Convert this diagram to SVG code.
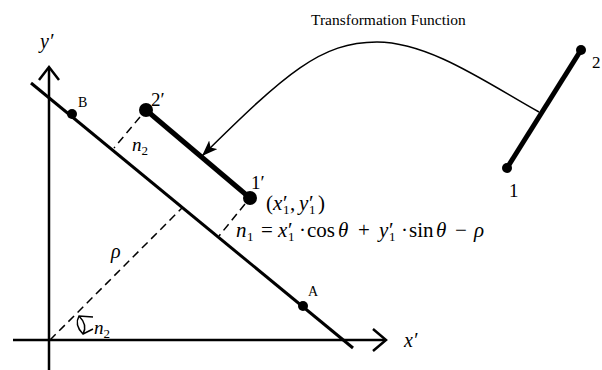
<svg xmlns="http://www.w3.org/2000/svg" width="602" height="370" viewBox="0 0 602 370">
<defs>
<style>
.t{font-family:"Liberation Serif","Times New Roman",serif;fill:#000}
.i{font-style:italic}
.s{font-size:13px}
.ax{stroke:#000;stroke-width:2.5;fill:none}
.thin{stroke:#000;stroke-width:1.5;fill:none}
.dash{stroke:#000;stroke-width:1.5;fill:none;stroke-dasharray:8 5}
.thick{stroke:#000;stroke-width:5;fill:none}
.dot{fill:#000}
</style>
<marker id="ah" viewBox="0 0 16 12" refX="16" refY="6" markerWidth="16" markerHeight="12" markerUnits="userSpaceOnUse" orient="auto">
<path d="M0,0 L16,6 L0,12 L4,6 Z" fill="#000"/>
</marker>
</defs>
<rect width="602" height="370" fill="#fff"/>
<g id="axes">
<line class="ax" x1="49" y1="68" x2="49" y2="370"/>
<polyline class="ax" points="39,80 49,67 59,80"/>
<line class="ax" x1="13" y1="340" x2="385" y2="340"/>
<polyline class="ax" points="373,329 386,340 373,351"/>
<text class="t i" x="40" y="48" font-size="20">y′</text>
<text class="t i" x="404" y="347" font-size="20">x′</text>
</g>
<g id="connectors">
<line class="dash" x1="140" y1="117" x2="114" y2="148"/>
<line class="dash" x1="245" y1="204" x2="219" y2="236"/>
<line class="dash" x1="50" y1="340" x2="183" y2="207"/>
<path class="thin" d="M539,112 C490,85 430,42 377,42 C321,42 286,73 202,156" marker-end="url(#ah)"/>
<path class="thin" d="M93,317 L79,316 Q74,325 83,334 L93,329 M79,316 Q88,325 83,334"/>
</g>
<g id="line-AB">
<line stroke="#000" stroke-width="3" x1="31" y1="83" x2="353" y2="348"/>
<circle class="dot" cx="72" cy="114" r="5"/>
<circle class="dot" cx="303" cy="306" r="5"/>
<text class="t" x="78" y="107" font-size="14">B</text>
<text class="t" x="308" y="296" font-size="14">A</text>
</g>
<g id="segment-transformed">
<line class="thick" x1="146" y1="110" x2="250" y2="198"/>
<circle class="dot" cx="146" cy="110" r="7"/>
<circle class="dot" cx="250" cy="198" r="7"/>
<text class="t" x="151" y="106" font-size="19">2′</text>
<text class="t" x="251" y="189" font-size="19">1′</text>
</g>
<g id="segment-original">
<line class="thick" x1="507" y1="168" x2="581" y2="50"/>
<circle class="dot" cx="507" cy="168" r="5"/>
<circle class="dot" cx="581" cy="50" r="5"/>
<text class="t" x="592" y="68" font-size="17">2</text>
<text class="t" x="509" y="197" font-size="19">1</text>
</g>
<g id="labels">
<text class="t" x="311" y="25" font-size="15.5">Transformation Function</text>
<text class="t" x="132" y="151" font-size="19"><tspan class="i">n</tspan><tspan class="s" dy="4">2</tspan></text>
<text class="t" x="94" y="334" font-size="19"><tspan class="i">n</tspan><tspan class="s" dy="4">2</tspan></text>
<text class="t i" x="111" y="258" font-size="20">ρ</text>
<text class="t" font-size="21"><tspan x="266" y="210">(</tspan><tspan class="i" x="273" y="210">x</tspan><tspan x="283" y="210">′</tspan><tspan class="s" x="283" y="214">1</tspan><tspan x="290" y="210">,</tspan><tspan class="i" x="299" y="210">y</tspan><tspan x="309" y="210">′</tspan><tspan class="s" x="309" y="214">1</tspan><tspan x="318" y="210">)</tspan></text>
<text class="t" font-size="21"><tspan class="i" x="236" y="237">n</tspan><tspan class="s" x="247" y="241">1</tspan><tspan x="261" y="237">=</tspan><tspan class="i" x="278" y="237">x</tspan><tspan x="288" y="237">′</tspan><tspan class="s" x="288" y="241">1</tspan><tspan x="299" y="237">·</tspan><tspan x="307" y="237">cos</tspan><tspan class="i" x="338" y="237">θ</tspan><tspan x="358" y="237">+</tspan><tspan class="i" x="379" y="237">y</tspan><tspan x="389" y="237">′</tspan><tspan class="s" x="389" y="241">1</tspan><tspan x="401" y="237">·</tspan><tspan x="409" y="237">sin</tspan><tspan class="i" x="436" y="237">θ</tspan><tspan x="455" y="237">−</tspan><tspan class="i" x="474" y="237">ρ</tspan></text>
</g>
</svg>
